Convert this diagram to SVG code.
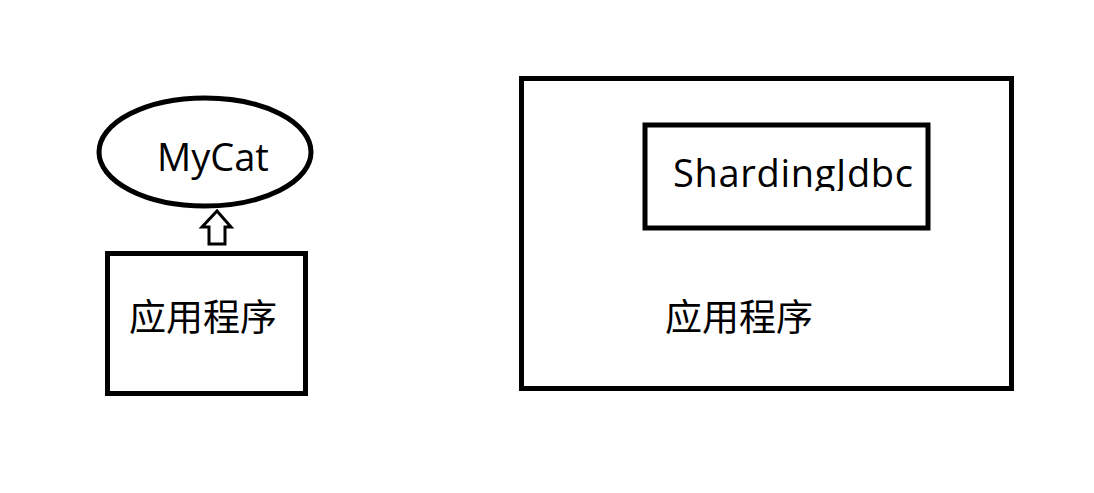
<svg xmlns="http://www.w3.org/2000/svg" width="1094" height="493" viewBox="0 0 1094 493">
<style>
.box{fill:none;stroke:#000;stroke-width:5}
.lbl{font-family:"Open Sans","Noto Sans CJK SC",sans-serif;fill:#000}
.cjk{font-family:"Noto Sans CJK SC","Open Sans",sans-serif;font-size:37px;fill:#000}
</style>
<defs>
<clipPath id="clipSJ"><rect x="640" y="120" width="300" height="71"/></clipPath>
</defs>
<rect width="1094" height="493" fill="#fff"/>
<g id="mycat">
<ellipse cx="205" cy="152" rx="106" ry="54" class="box" stroke-width="4"/>
<text x="157" y="171" class="lbl" font-size="38">MyCat</text>
</g>
<g id="app-left">
<rect x="107.5" y="253.5" width="198" height="140" class="box"/>
<text x="129" y="331" class="cjk">应用程序</text>
</g>
<g id="app-right">
<rect x="521.5" y="78.5" width="490" height="310" class="box"/>
<text x="665" y="331" class="cjk">应用程序</text>
</g>
<g id="sharding">
<rect x="645" y="125" width="283" height="103" class="box"/>
<text x="673" y="187" class="lbl" font-size="38" clip-path="url(#clipSJ)" textLength="240">ShardingJdbc</text>
</g>
<g id="connectors">
<path d="M217 211 L231 227 L225 227 L225 244 L209 244 L209 227 L202 227 Z" fill="#fff" stroke="#000" stroke-width="3" stroke-linejoin="miter"/>
</g>
</svg>
